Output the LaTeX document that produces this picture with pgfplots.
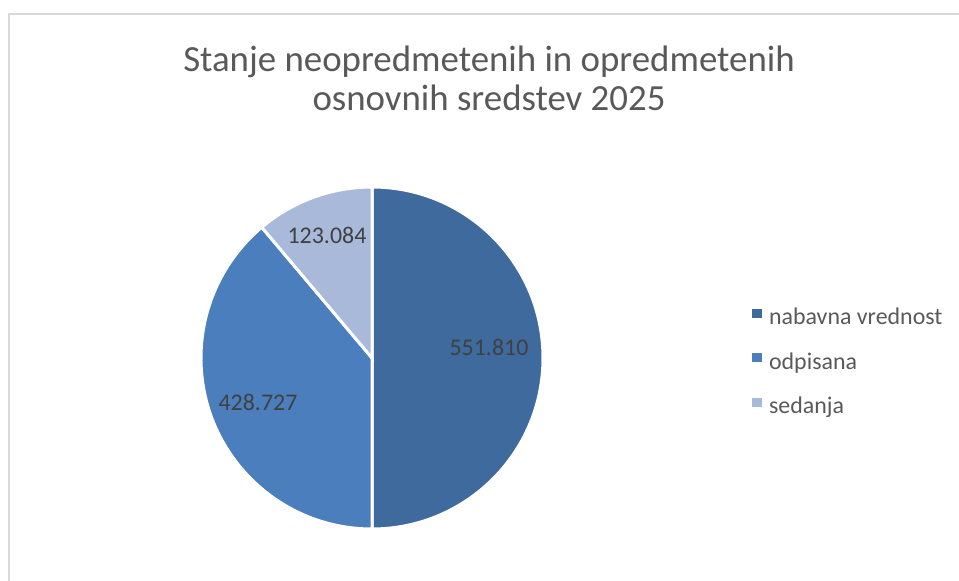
\documentclass[border=0pt]{standalone}
\usepackage{fontspec}
\setmainfont{Carlito}
\usepackage{pgfplots}
\usepackage{pgfplotstable}
\pgfplotsset{compat=1.18}
\definecolor{cA}{HTML}{3E6A9D}
\definecolor{cB}{HTML}{4A7EBC}
\definecolor{cC}{HTML}{A9B9D9}
\definecolor{cBorder}{HTML}{D9D9D9}
\definecolor{cTitle}{HTML}{595959}
\definecolor{cLabel}{HTML}{404040}
\pgfplotstableread{
label value
{nabavna vrednost} 551810
odpisana 428727
sedanja 123084
}\piedata
\pgfplotstablegetelem{0}{value}\of\piedata \edef\va{\pgfplotsretval}
\pgfplotstablegetelem{1}{value}\of\piedata \edef\vb{\pgfplotsretval}
\pgfplotstablegetelem{2}{value}\of\piedata \edef\vc{\pgfplotsretval}
\edef\tot{\fpeval{\va+\vb+\vc}}
\edef\aA{\fpeval{90-360*\va/\tot}}
\edef\aB{\fpeval{\aA-360*\vb/\tot}}
\edef\aC{\fpeval{\aB-360*\vc/\tot}}
\newcommand\fmt[1]{\pgfmathprintnumber[assume math mode=true, 1000 sep={.}, fixed, precision=0]{#1}}
\begin{document}
\begin{tikzpicture}
\useasboundingbox (0,0) rectangle (959bp,581bp);
\begin{axis}[
  at={(0,0)}, anchor=south west,
  scale only axis, x=1bp, y=1bp,
  xmin=0, xmax=959, ymin=0, ymax=581,
  hide axis, clip=false,
  legend image code/.code={\fill[#1] (0bp,1.5bp) rectangle (8.5bp,9.5bp);},
  legend cell align=left,
  legend style={at={(axis cs:749,218)}, anchor=west, draw=none, fill=none,
    font=\fontsize{24}{28}\selectfont, text=cTitle, row sep=22.5bp,
    nodes={inner sep=0pt, text height=17bp, text depth=5bp},
    /tikz/every odd column/.append style={column sep=8bp}},
]
\addlegendimage{cA}\addlegendentry{nabavna vrednost}
\addlegendimage{cB}\addlegendentry{odpisana}
\addlegendimage{cC}\addlegendentry{sedanja}
% border
\draw[cBorder, line width=1.6bp] (axis cs:959,567) -- (axis cs:9,567) -- (axis cs:9,0);
% slices
\fill[cA, draw=white, line width=3bp] (axis cs:372,223) -- ++(90:171bp) arc[start angle=90, end angle=\aA, radius=171bp] -- cycle;
\fill[cB, draw=white, line width=3bp] (axis cs:372,223) -- ++(\aA:171bp) arc[start angle=\aA, end angle=\aB, radius=171bp] -- cycle;
\fill[cC, draw=white, line width=3bp] (axis cs:372,223) -- ++(\aB:171bp) arc[start angle=\aB, end angle=\aC, radius=171bp] -- cycle;
% labels
\node[font=\fontsize{24}{28}\selectfont, text=cLabel, anchor=base] at (axis cs:489,226) {\fmt{\va}};
\node[font=\fontsize{24}{28}\selectfont, text=cLabel, anchor=base] at (axis cs:258,170.5) {\fmt{\vb}};
\node[font=\fontsize{24}{28}\selectfont, text=cLabel, anchor=base] at (axis cs:327,338) {\fmt{\vc}};
% title
\node[font=\fontsize{37}{44}\selectfont, text=cTitle, anchor=base] at (axis cs:489,509) {Stanje neopredmetenih in opredmetenih};
\node[font=\fontsize{37}{44}\selectfont, text=cTitle, anchor=base] at (axis cs:489,470) {osnovnih sredstev 2025};
\end{axis}
\end{tikzpicture}
\end{document}
